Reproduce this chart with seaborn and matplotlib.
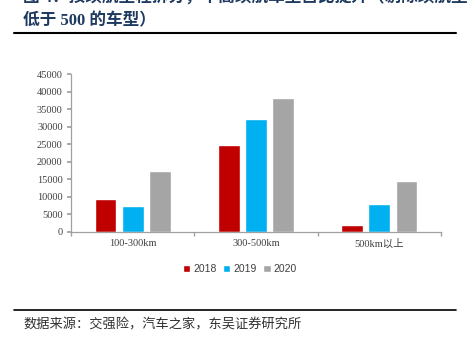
import matplotlib
matplotlib.use("Agg")
import matplotlib.pyplot as plt
import seaborn as sns
import pandas as pd
import numpy as np

categories = ["100-300km", "300-500km", "500km以上"]
years = ["2018", "2019", "2020"]
sales_2018 = [9300, 24800, 1800]
sales_2019 = [7300, 32200, 8000]
sales_2020 = [17400, 38300, 14400]
y_ticks = [0, 5000, 10000, 15000, 20000, 25000, 30000, 35000, 40000, 45000]
colors = ["#C00000", "#00B0F0", "#A5A5A5"]

title_line1 = "图 4：按续航里程拆分，中高续航车型占比提升（剔除续航里"
title_line2 = "低于 500 的车型）"
source_text = "数据来源：交强险，汽车之家，东吴证券研究所"

rows = []
for yr, vals in zip(years, [sales_2018, sales_2019, sales_2020]):
    for c, v in zip(categories, vals):
        rows.append({"cat": c, "year": yr, "value": v})
df = pd.DataFrame(rows)

sns.set_theme(style="white")
plt.rcParams["font.family"] = ["Liberation Serif", "Noto Sans CJK SC"]

W, H = 475, 342
fig = plt.figure(figsize=(W / 100, H / 100), dpi=100)
ax = fig.add_axes([71 / W, 1 - 231.7 / H, 370 / W, (231.7 - 74.3) / H])

sns.barplot(data=df, x="cat", y="value", hue="year", order=categories,
            hue_order=years, palette=colors, width=0.66, gap=0.2,
            saturation=1, ax=ax, legend=True)

ax.set_ylim(0, 45000)
ax.set_xlim(-0.5, 2.5)
ax.set_yticks(y_ticks)
ax.set_yticklabels([str(t) for t in y_ticks], fontsize=7.5, color="#404040")
ax.set_xticks(range(len(categories)))
ax.set_xticklabels(categories, fontsize=7.5, color="#404040",
                   family=["Liberation Serif", "Noto Sans CJK SC"])
ax.set_xticks([-0.5, 0.5, 1.5, 2.5], minor=True)
ax.tick_params(axis="x", which="major", length=0, pad=5)
ax.tick_params(axis="x", which="minor", length=3, color="#A0A0A0", direction="out", bottom=True)
ax.tick_params(axis="y", which="major", length=3, color="#A0A0A0", direction="out", left=True, pad=3)
ax.set_xlabel("")
ax.set_ylabel("")
for s in ["top", "right"]:
    ax.spines[s].set_visible(False)
for s in ["left", "bottom"]:
    ax.spines[s].set_color("#A0A0A0")
    ax.spines[s].set_linewidth(0.9)

leg = ax.legend(loc="center", bbox_to_anchor=(240 / W, 1 - 269 / H),
                bbox_transform=fig.transFigure, ncol=3, frameon=False,
                handlelength=0.7, handleheight=0.7, handletextpad=0.3,
                columnspacing=0.6, prop={"family": "Liberation Sans", "size": 7.5})
for t in leg.get_texts():
    t.set_color("#404040")

# header / footer
title_color = "#1F3A60"
fig.text(23 / W, 1 + 1.5 / H, title_line1, fontsize=12, fontweight="bold",
         color=title_color, va="center", ha="left",
         family=["Liberation Serif", "Noto Sans CJK SC"])
fig.text(23 / W, 1 - 21.7 / H, title_line2, fontsize=12, fontweight="bold",
         color=title_color, va="center", ha="left",
         family=["Liberation Serif", "Noto Sans CJK SC"])
fig.add_artist(plt.Line2D([14 / W, 456 / W], [1 - 33.3 / H, 1 - 33.3 / H],
                          transform=fig.transFigure, color="black", linewidth=1.5))
fig.add_artist(plt.Line2D([14 / W, 456 / W], [1 - 310 / H, 1 - 310 / H],
                          transform=fig.transFigure, color="black", linewidth=1.2))
fig.text(23 / W, 1 - 325 / H, source_text, fontsize=9.5, color="#303030",
         va="center", ha="left", family=["Noto Sans CJK SC", "DejaVu Sans"])

fig.savefig("out.png", dpi=100)
